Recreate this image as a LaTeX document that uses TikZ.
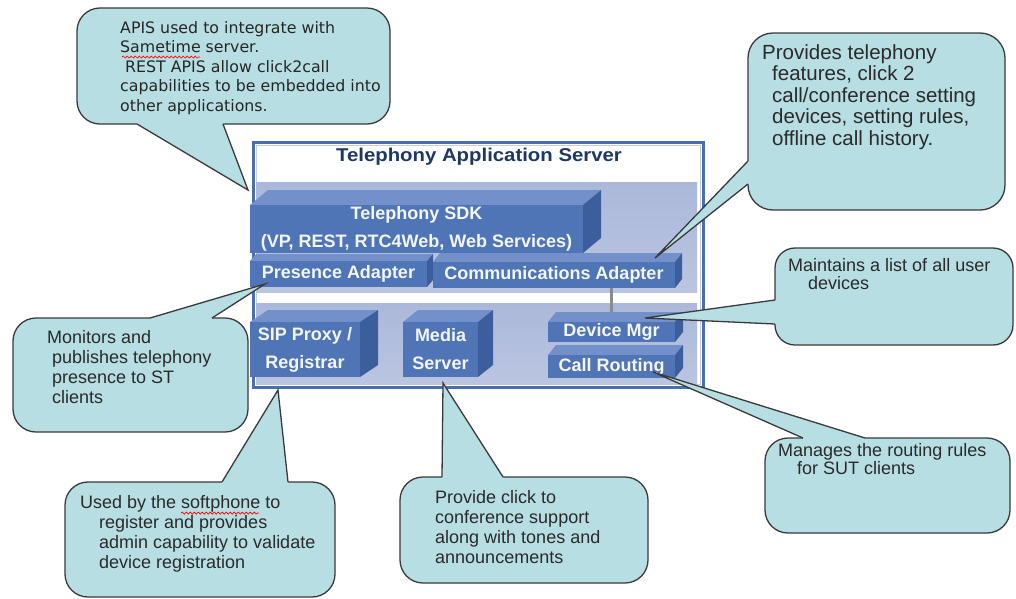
\documentclass[tikz,border=0pt]{standalone}
\usepackage{fontspec}
\setmainfont{Liberation Sans}
\newfontfamily\apifont{DejaVu Sans}
\usetikzlibrary{calc,decorations.pathmorphing}

\definecolor{bubblefill}{HTML}{B7DEE3}
\definecolor{bubbleedge}{HTML}{3A3A3A}
\definecolor{frameblue}{HTML}{4A6EB2}
\definecolor{frameinner}{HTML}{C3CDE6}
\definecolor{bandtop}{HTML}{ABB8D9}
\definecolor{bandbottom}{HTML}{BAC5E1}
\definecolor{facefront}{HTML}{5075B7}
\definecolor{facetop}{HTML}{7390CA}
\definecolor{faceside}{HTML}{3D5E9C}
\definecolor{titlenavy}{HTML}{1D3766}
\definecolor{notetext}{HTML}{2A2A2A}
\definecolor{linkgray}{HTML}{8A8A8A}
\definecolor{labelwhite}{HTML}{F3F6FC}

% stacked text lines with a fixed line pitch; baseline = first line
\newcommand\notelines[2]{\vtop{\baselineskip=#1\relax #2}}

\tikzset{
  frame/.style={draw=frameblue, line width=3pt, anchor=north west, inner sep=0pt, outer sep=0pt},
  blockface/.style={fill=facefront, inner sep=0pt, outer sep=0pt, text=labelwhite,
    align=center, font=\bfseries\fontsize{18}{28}\selectfont},
  bubble/.style={draw=bubbleedge, fill=bubblefill, line width=1.3pt, rounded corners=23pt,
    inner sep=0pt, outer sep=0pt, anchor=north west},
  pointerline/.style={draw=bubbleedge, line width=1.3pt, line join=miter},
  note/.style={anchor=base west, inner sep=0pt, text=notetext},
  link/.style={draw=linkgray, line width=3pt},
  spellmark/.style={draw=red, line width=0.7pt,
    decorate, decoration={snake, segment length=4pt, amplitude=1pt}}
}

% 3-D block: name, x1, y1, x2, y2 (front face), depth dx, dy, label
\newcommand\block[8]{%
  \fill[facetop] (#2,#3) -- ++(#6,-#7) -- (#4+#6,#3-#7) -- (#4,#3) -- cycle;
  \fill[faceside] (#4,#3) -- (#4+#6,#3-#7) -- (#4+#6,#5-#7) -- (#4,#5) -- cycle;
  \node[blockface, minimum width={(#4-#2)*1pt}, minimum height={(#5-#3)*1pt}]
    (#1) at ({(#2+#4)/2},{(#3+#5)/2}) {#8};
}

% callout wedge: base point a, base point b, tip, inward shift
\newcommand\pointer[4]{%
  \fill[bubblefill] (#1) -- (#3) -- (#2) -- ($(#2)+(#4)$) -- ($(#1)+(#4)$) -- cycle;
  \draw[pointerline] (#1) -- (#3) -- (#2);
}

\begin{document}
\begin{tikzpicture}[x=1pt, y=-1pt]
\fill[white] (0,0) rectangle (1016,598);
\useasboundingbox (0,0) rectangle (1016,598);

% server frame and its two layers
\node[frame, minimum width=450pt, minimum height=245pt] (tas) at (253,142) {};
\draw[frameinner, line width=1pt] ($(tas.north west)+(3,3)$) rectangle ($(tas.south east)+(-3,-3)$);
\shade[top color=bandtop, bottom color=bandbottom] (256,182) rectangle (697,292);
\shade[top color=bandtop, bottom color=bandbottom] (256,303) rectangle (697,384);
\node[text=titlenavy, font=\bfseries\fontsize{18.5}{20}\selectfont] (title) at (479,157)
  {\scalebox{1.1}[1]{Telephony Application Server}};

% components
\block{sdk}{250}{205}{583}{253}{18}{15}{Telephony SDK\\(VP, REST, RTC4Web, Web Services)}
\block{presence}{250}{261}{427}{287}{6}{7}{Presence Adapter}
\block{comm}{433}{262}{675}{288}{7}{9}{Communications Adapter}
\block{sip}{250}{322}{360}{377}{18}{12}{SIP Proxy /\\Registrar}
\block{media}{403}{322}{478}{377}{15}{12}{Media\\Server}
\block{devmgr}{548}{322}{675}{342}{8}{10}{Device Mgr}
\block{routing}{548}{355}{675}{378}{8}{10}{Call Routing}

\draw[link] (devmgr.north |- comm.south) -- ($(devmgr.north)+(0,-10)$);

% pointer tips
\coordinate (apitip) at (248,190);
\coordinate (commtip) at (655,258);
\coordinate (devtip) at (645,318);
\coordinate (prestip) at (265,284);
\coordinate (siptip) at (278,390);
\coordinate (mediatip) at (443,383);
\coordinate (routetip) at (653,372);

% callouts
\node[bubble, minimum width=313pt, minimum height=116pt] (apinote) at (77,8) {};
\pointer{$(apinote.south west)+(60,0)$}{$(apinote.south west)+(146,0)$}{apitip}{0,-3}

\node[bubble, minimum width=257pt, minimum height=177pt, rounded corners=25pt] (provnote) at (748,33) {};
\pointer{$(provnote.north west)+(0,128)$}{$(provnote.north west)+(0,151)$}{commtip}{3,0}

\node[bubble, minimum width=238pt, minimum height=97pt, rounded corners=20pt] (devnote) at (775,248) {};
\pointer{$(devnote.north west)+(0,52)$}{$(devnote.north west)+(0,76)$}{devtip}{3,0}

\node[bubble, minimum width=235pt, minimum height=114pt] (presnote) at (13,318) {};
\pointer{$(presnote.north west)+(137,0)$}{$(presnote.north west)+(199,0)$}{prestip}{0,3}

\node[bubble, minimum width=270pt, minimum height=115pt] (sipnote) at (65,482) {};
\pointer{$(sipnote.north west)+(157,0)$}{$(sipnote.north west)+(223,0)$}{siptip}{0,3}

\node[bubble, minimum width=248pt, minimum height=106pt] (medianote) at (400,477) {};
\pointer{$(medianote.north west)+(42,0)$}{$(medianote.north west)+(103,0)$}{mediatip}{0,3}

\node[bubble, minimum width=245pt, minimum height=95pt] (routenote) at (765,438) {};
\pointer{$(routenote.north west)+(38,0)$}{$(routenote.north west)+(100,0)$}{routetip}{0,3}

% callout texts
\node[note, text=black!85] (apitext) at (120,33) {\apifont\fontsize{15.8}{19.5}\selectfont
  \notelines{19.5pt}{%
    \hbox{APIS used to integrate with}%
    \hbox{Sametime server.}%
    \hbox{\hspace*{5pt}REST APIS allow click2call}%
    \hbox{capabilities to be embedded into}%
    \hbox{other applications.}}};
\draw[spellmark] ($(apitext.base west)+(2,24)$) -- ($(apitext.base west)+(80,24)$);

\node[note] (provtext) at (762,59) {\fontsize{20.5}{21.5}\selectfont
  \notelines{21.5pt}{%
    \hbox{Provides telephony}%
    \hbox{\hspace*{10pt}features, click 2}%
    \hbox{\hspace*{10pt}call/conference setting}%
    \hbox{\hspace*{10pt}devices, setting rules,}%
    \hbox{\hspace*{10pt}offline call history.}}};

\node[note] (devtext) at (788,271) {\fontsize{18}{18}\selectfont
  \notelines{18pt}{%
    \hbox{Maintains a list of all user}%
    \hbox{\hspace*{20pt}devices}}};

\node[note] (prestext) at (47,343) {\fontsize{18}{20}\selectfont
  \notelines{20pt}{%
    \hbox{Monitors and}%
    \hbox{\hspace*{5pt}publishes telephony}%
    \hbox{\hspace*{5pt}presence to ST}%
    \hbox{\hspace*{5pt}clients}}};

\node[note] (siptext) at (80,508) {\fontsize{18}{20}\selectfont
  \notelines{20pt}{%
    \hbox{Used by the softphone to}%
    \hbox{\hspace*{19pt}register and provides}%
    \hbox{\hspace*{19pt}admin capability to validate}%
    \hbox{\hspace*{19pt}device registration}}};
\draw[spellmark] ($(siptext.base west)+(101,5)$) -- ($(siptext.base west)+(179,5)$);

\node[note] (mediatext) at (435,503) {\fontsize{18}{20}\selectfont
  \notelines{20pt}{%
    \hbox{Provide click to}%
    \hbox{conference support}%
    \hbox{along with tones and}%
    \hbox{announcements}}};

\node[note] (routetext) at (778,456) {\fontsize{18}{18}\selectfont
  \notelines{18pt}{%
    \hbox{Manages the routing rules}%
    \hbox{\hspace*{19pt}for SUT clients}}};
\end{tikzpicture}
\end{document}
